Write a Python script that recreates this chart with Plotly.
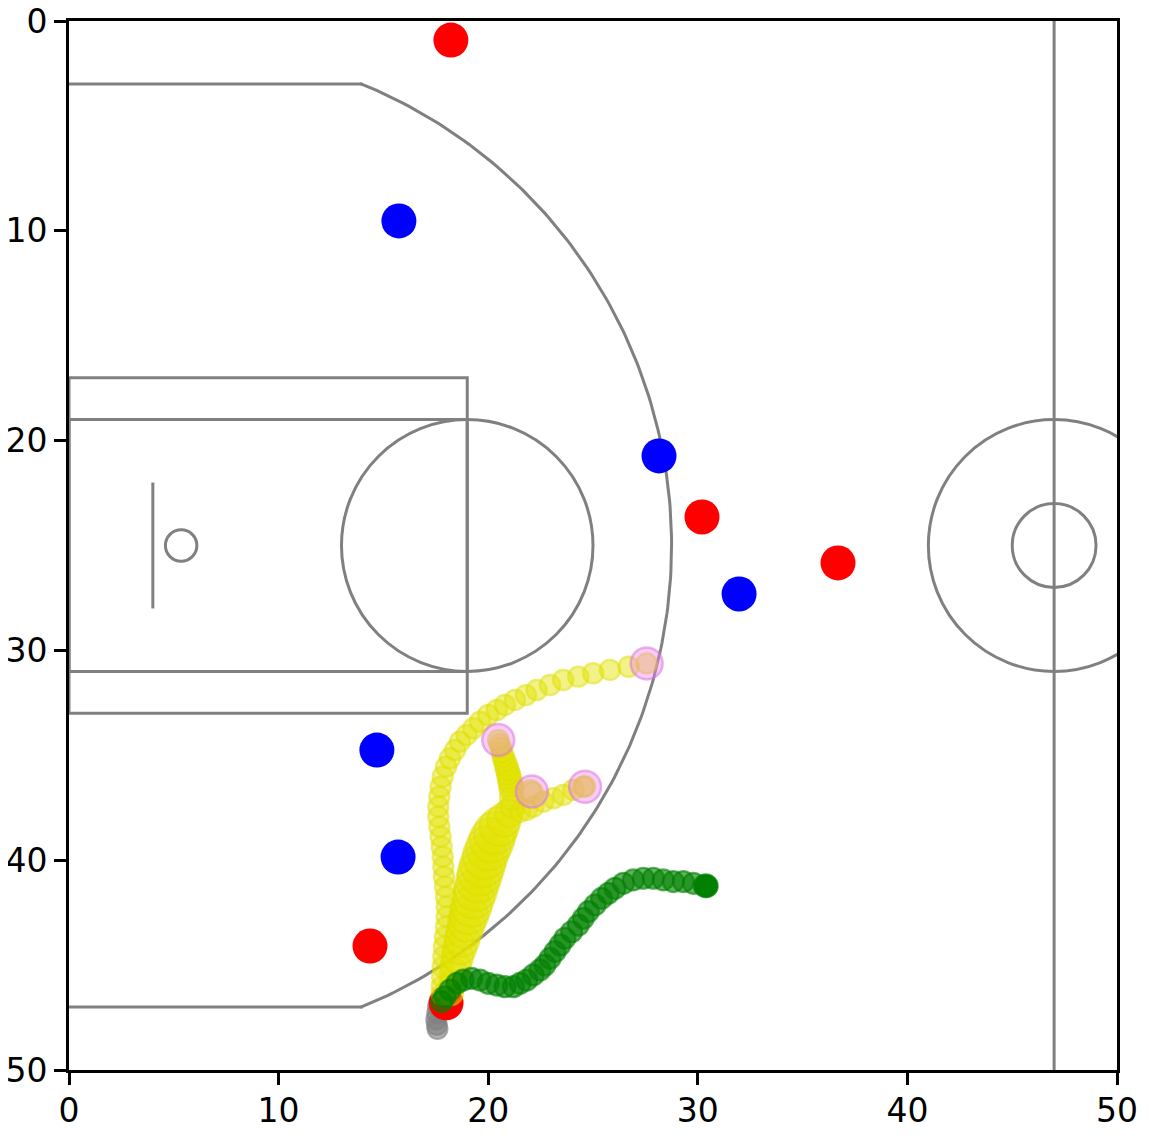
import numpy as np
import plotly.graph_objects as go

# ---------------- data (court feet; y is negative, 0 at top) ----------------
offense_x = [18.22, 30.20, 36.69, 14.36, 17.99]
offense_y = [-0.91, -23.64, -25.83, -44.09, -46.80]

defense_x = [15.74, 28.15, 31.97, 14.69, 15.70]
defense_y = [-9.53, -20.73, -27.31, -34.75, -39.85]

# ball track: dribble loop, pass wedge, stem, branch
ball_x = [
    # dribble loop (bottom -> top-right)
    17.78, 17.78, 17.80, 17.83, 17.86, 17.89, 17.94, 17.99, 18.02, 18.02,
    17.99, 17.94, 17.89, 17.86, 17.83, 17.78, 17.73, 17.67, 17.62, 17.62,
    17.67, 17.73, 17.83, 17.99, 18.18, 18.42, 18.65, 18.97, 19.29, 19.61,
    20.00, 20.41, 20.80, 21.28, 21.80, 22.31, 22.95, 23.58, 24.30, 25.01,
    25.81, 26.70, 27.56,
    # wedge (bottom -> fork)
    18.22, 18.30, 18.37, 18.45, 18.54, 18.64, 18.75, 18.86, 18.97, 19.08,
    19.19, 19.30, 19.41, 19.51, 19.61, 19.73, 19.85, 20.00, 20.17, 20.32,
    20.52, 20.75, 20.99, 21.14,
    # stem (fork -> upper event)
    21.13, 21.12, 21.08, 21.04, 21.00, 20.96, 20.90, 20.85, 20.78, 20.72,
    20.66, 20.61, 20.54, 20.48,
    # branch (fork -> right event)
    21.52, 21.85, 22.15, 22.00, 22.10, 22.63, 23.11, 23.58, 24.06, 24.54,
    24.62,
]
ball_y = [
    -46.40, -46.03, -45.55, -45.08, -44.60, -44.12, -43.65, -43.17, -42.69, -42.22,
    -41.74, -41.26, -40.79, -40.31, -39.83, -39.36, -38.88, -38.40, -37.93, -37.45,
    -36.97, -36.50, -36.02, -35.54, -35.14, -34.75, -34.35, -34.03, -33.71, -33.40,
    -33.08, -32.84, -32.60, -32.36, -32.13, -31.89, -31.65, -31.41, -31.25, -31.09,
    -30.93, -30.78, -30.62,
    -46.33, -45.85, -45.38, -45.00, -44.60, -44.19, -43.80, -43.37, -42.99, -42.61,
    -42.22, -41.80, -41.42, -40.99, -40.61, -40.23, -39.83, -39.42, -39.04, -38.70,
    -38.40, -38.08, -37.76, -37.42,
    -37.05, -36.65, -36.43, -36.22, -36.04, -35.86, -35.66, -35.46, -35.27, -35.07,
    -34.86, -34.65, -34.46, -34.27,
    -37.70, -37.60, -37.45, -36.70, -36.80, -37.21, -37.05, -36.89, -36.65, -36.50,
    -36.48,
]
ball_z = [
    4.0, 4.0, 4.0, 4.0, 4.0, 4.0, 4.0, 4.0, 4.0, 4.0,
    4.0, 4.0, 4.0, 4.0, 4.0, 4.0, 4.0, 4.0, 4.0, 4.0,
    4.0, 4.0, 4.0, 4.0, 4.0, 4.0, 4.0, 4.0, 4.0, 4.0,
    4.0, 4.0, 4.0, 4.0, 4.0, 4.0, 4.0, 4.0, 4.0, 4.0,
    4.0, 4.0, 4.0,
    4.82, 5.11, 5.56, 5.89, 6.22, 6.56, 6.82, 7.11, 7.33, 7.67,
    8.00, 8.22, 8.44, 8.67, 8.89, 8.89, 8.89, 8.89, 8.89, 8.44,
    7.78, 6.67, 5.56, 4.67,
    4.7, 4.7, 4.7, 4.6, 4.6, 4.5, 4.5, 4.4, 4.3, 4.2,
    4.1, 4.0, 4.0, 4.0,
    4.0, 4.0, 4.0, 4.3, 4.3, 4.0, 4.0, 4.0, 4.0, 4.0,
    4.0,
]

event_x = [20.48, 22.08, 24.62, 27.56]
event_y = [-34.27, -36.73, -36.50, -30.62]

track_green_x = [
    30.45, 30.40, 30.35, 30.30, 30.42, 29.79, 29.31, 28.83, 28.35, 27.88,
    27.40, 26.92, 26.45, 26.05, 25.73, 25.41, 25.10, 24.78, 24.54, 24.30,
    23.98, 23.66, 23.43, 23.19, 22.95, 22.71, 22.47, 22.15, 21.84, 21.52,
    21.20, 20.80, 20.41, 20.00, 19.61, 19.21, 18.81, 18.50, 18.18, 17.94,
    17.78,
]
track_green_y = [
    -41.22, -41.18, -41.26, -41.20, -41.26, -41.10, -41.02, -41.02, -40.94, -40.86,
    -40.86, -40.94, -41.10, -41.34, -41.58, -41.82, -42.13, -42.45, -42.77, -43.09,
    -43.41, -43.72, -44.04, -44.36, -44.68, -45.00, -45.23, -45.47, -45.71, -45.87,
    -46.03, -46.03, -45.95, -45.87, -45.71, -45.63, -45.71, -45.87, -46.19, -46.51,
    -46.74,
]

track_gray_x = [17.60, 17.56, 17.52, 17.55, 17.58]
track_gray_y = [-47.00, -47.30, -47.60, -47.85, -48.05]

x_ticks = [0, 10, 20, 30, 40, 50]
y_ticks = [0, -10, -20, -30, -40, -50]

# ---------------- court geometry (feet) ----------------
COURT = dict(
    hoop=(5.35, -25.0, 0.75),
    backboard=(4.0, -28.0, -22.0),
    outer_box=(0.0, -33.0, 19.0, -17.0),
    inner_box=(0.0, -31.0, 19.0, -19.0),
    free_throw=(19.0, -25.0, 6.0),
    corners=(-3.0, -47.0, 14.0),
    arc=(5.0, -25.0, 23.75, -68.0, 68.0),
    half_court=47.0,
    hc_big=6.0,
    hc_small=2.0,
)

LINE = "#808080"
LW = 3.0
BALL_PX_PER_FT = 5.0

fig = go.Figure()
shapes = []

def circle(cx, cy, r):
    shapes.append(dict(type="circle", xref="x", yref="y", x0=cx - r, x1=cx + r,
                       y0=cy - r, y1=cy + r, line=dict(color=LINE, width=LW),
                       layer="below"))

def rect(x0, y0, x1, y1):
    shapes.append(dict(type="rect", xref="x", yref="y", x0=x0, x1=x1, y0=y0, y1=y1,
                       line=dict(color=LINE, width=LW), layer="below"))

def seg(x0, y0, x1, y1):
    shapes.append(dict(type="line", xref="x", yref="y", x0=x0, x1=x1, y0=y0, y1=y1,
                       line=dict(color=LINE, width=LW), layer="below"))

hx, hy, hr = COURT["hoop"]
circle(hx, hy, hr)
bx, by0, by1 = COURT["backboard"]
seg(bx, by0, bx, by1)
rect(*COURT["outer_box"])
rect(*COURT["inner_box"])
circle(*COURT["free_throw"])
c1, c2, cl = COURT["corners"]
seg(0, c1, cl, c1)
seg(0, c2, cl, c2)
hc = COURT["half_court"]
seg(hc, -50, hc, 0)
circle(hc, -25, COURT["hc_big"])
circle(hc, -25, COURT["hc_small"])

ax_, ay_, ar_, t0, t1 = COURT["arc"]
theta = np.radians(np.linspace(t0, t1, 200))
fig.add_trace(go.Scatter(x=ax_ + ar_ * np.cos(theta), y=ay_ + ar_ * np.sin(theta),
                         mode="lines", line=dict(color=LINE, width=LW),
                         hoverinfo="skip", showlegend=False))

# ---------------- marks ----------------
fig.add_trace(go.Scatter(x=track_gray_x, y=track_gray_y, mode="markers",
                         marker=dict(size=20, color="rgba(128,128,128,0.6)",
                                     line=dict(color="rgba(128,128,128,0.6)", width=2)),
                         showlegend=False))
fig.add_trace(go.Scatter(x=offense_x, y=offense_y, mode="markers",
                         marker=dict(size=35, color="red", line=dict(width=0)),
                         showlegend=False))
fig.add_trace(go.Scatter(x=defense_x, y=defense_y, mode="markers",
                         marker=dict(size=35, color="blue", line=dict(width=0)),
                         showlegend=False))
fig.add_trace(go.Scatter(x=ball_x, y=ball_y, mode="markers",
                         marker=dict(size=[BALL_PX_PER_FT * z for z in ball_z],
                                     color="rgba(228,228,0,0.66)",
                                     line=dict(color="rgba(222,222,0,0.8)", width=2.4)),
                         showlegend=False))
fig.add_trace(go.Scatter(x=event_x, y=event_y, mode="markers",
                         marker=dict(size=32, color="rgba(238,130,238,0.42)",
                                     line=dict(color="rgba(218,112,214,0.5)", width=2.5)),
                         showlegend=False))
fig.add_trace(go.Scatter(x=track_green_x, y=track_green_y, mode="markers",
                         marker=dict(size=21, color="rgba(0,128,0,0.6)",
                                     line=dict(color="rgba(0,128,0,0.6)", width=2.2)),
                         showlegend=False))

axis_common = dict(showgrid=False, zeroline=False, showline=True, mirror=True,
                   linecolor="black", linewidth=2.7, ticks="outside", ticklen=12,
                   tickwidth=2.7, tickcolor="black", automargin=False,
                   ticklabeloverflow="allow",
                   tickfont=dict(family="DejaVu Sans", size=33, color="black"))

# the page body has an 8 px default margin; size/margins account for it
fig.update_layout(
    width=1141, height=1132, autosize=False,
    margin=dict(l=61, r=32, t=13, b=70),
    paper_bgcolor="white", plot_bgcolor="white",
    shapes=shapes, showlegend=False,
    xaxis=dict(range=[0, 50], tickvals=x_ticks, ticklabelstandoff=-2, **axis_common),
    yaxis=dict(range=[-50, 0], tickvals=y_ticks, ticklabelstandoff=0, **axis_common),
)

fig.write_html("out.html")
